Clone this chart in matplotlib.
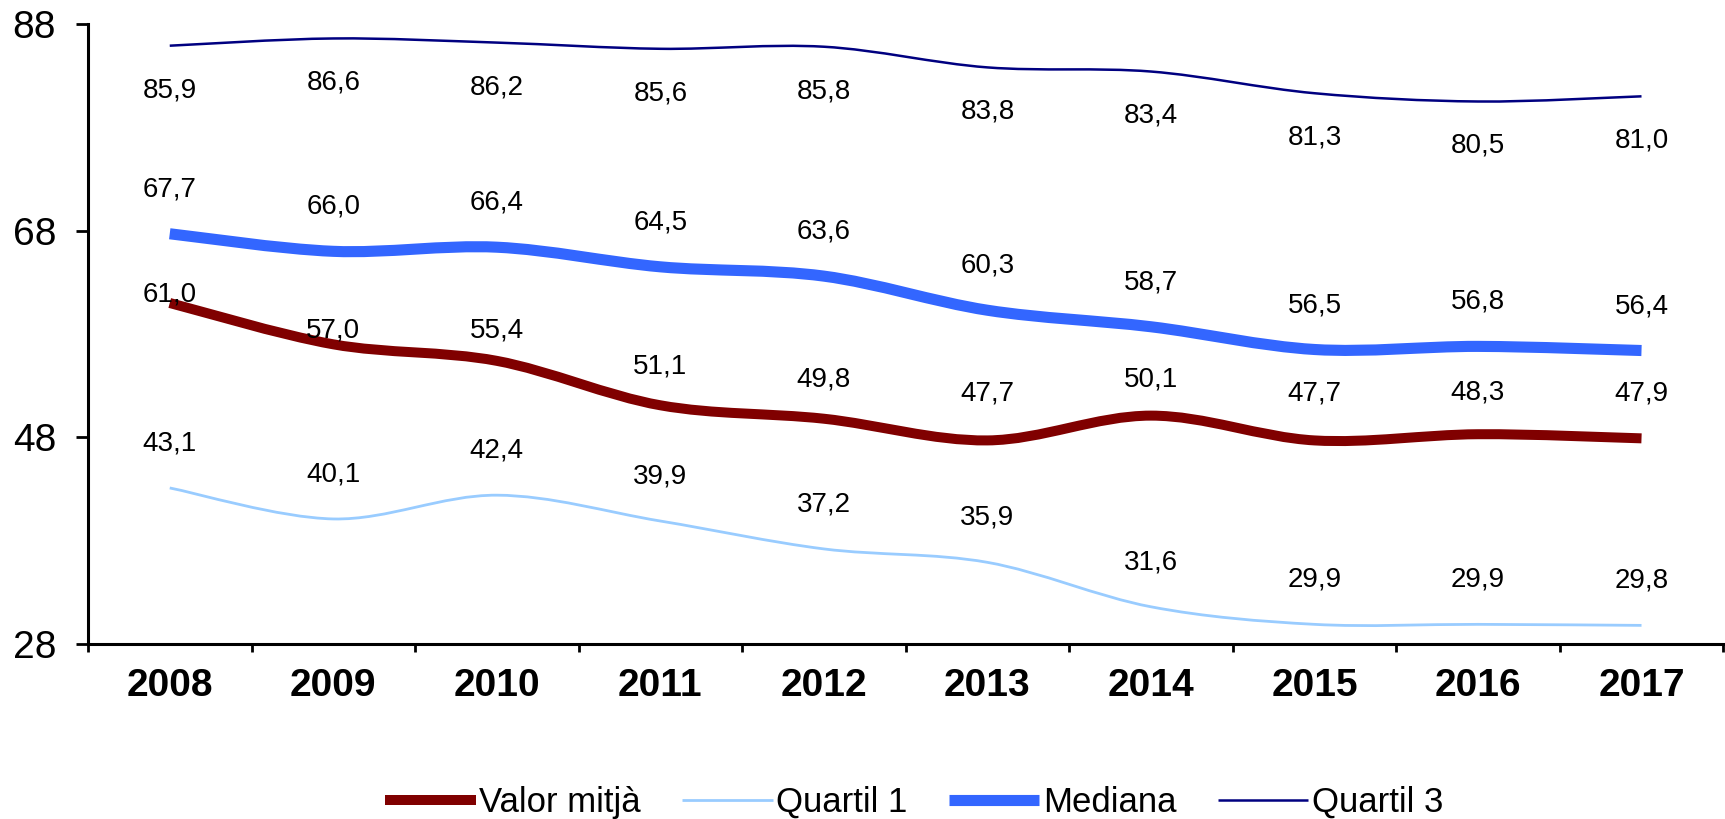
import numpy as np
import matplotlib
matplotlib.use('Agg')
import matplotlib.pyplot as plt
from matplotlib.path import Path
from matplotlib.patches import PathPatch
from matplotlib.lines import Line2D

plt.rcParams['font.family'] = ['Liberation Sans', 'DejaVu Sans']

# Data
years = ['2008', '2009', '2010', '2011', '2012', '2013', '2014', '2015', '2016', '2017']
valor_mitja = [61.0, 57.0, 55.4, 51.1, 49.8, 47.7, 50.1, 47.7, 48.3, 47.9]
quartil_1 = [43.1, 40.1, 42.4, 39.9, 37.2, 35.9, 31.6, 29.9, 29.9, 29.8]
mediana = [67.7, 66.0, 66.4, 64.5, 63.6, 60.3, 58.7, 56.5, 56.8, 56.4]
quartil_3 = [85.9, 86.6, 86.2, 85.6, 85.8, 83.8, 83.4, 81.3, 80.5, 81.0]
y_ticks = [28, 48, 68, 88]

# label offsets in points (positive = above the line)
mean_dy = [6, 10, 22, 28, 28, 34, 26, 34, 30, 32]


def smooth_path(x, y):
    # Excel-like smoothed line: Catmull-Rom converted to cubic Bezier
    x = np.asarray(x, float)
    y = np.asarray(y, float)
    n = len(x)
    verts = [(x[0], y[0])]
    codes = [Path.MOVETO]
    for i in range(n - 1):
        p0 = (x[i - 1], y[i - 1]) if i > 0 else (x[i], y[i])
        p1 = (x[i], y[i])
        p2 = (x[i + 1], y[i + 1])
        p3 = (x[i + 2], y[i + 2]) if i + 2 < n else (x[i + 1], y[i + 1])
        c1 = (p1[0] + (p2[0] - p0[0]) / 6, p1[1] + (p2[1] - p0[1]) / 6)
        c2 = (p2[0] - (p3[0] - p1[0]) / 6, p2[1] - (p3[1] - p1[1]) / 6)
        verts += [c1, c2, p2]
        codes += [Path.CURVE4] * 3
    return Path(verts, codes)


fig = plt.figure(figsize=(17.25, 8.19), dpi=100)
ax = fig.add_axes([0.051, 0.2137, 0.948, 0.757])

x = np.arange(len(years))
series = [
    ('Valor mitjà', valor_mitja, '#800000', 7.2),
    ('Quartil 1', quartil_1, '#99CCFF', 2.0),
    ('Mediana', mediana, '#3366FF', 8.0),
    ('Quartil 3', quartil_3, '#000080', 1.8),
]

handles = []
for name, vals, color, lw in series:
    patch = PathPatch(smooth_path(x, vals), fill=False, edgecolor=color,
                      linewidth=lw, capstyle='butt', joinstyle='round')
    ax.add_patch(patch)
    handles.append(Line2D([], [], color=color, linewidth=lw, solid_capstyle='butt'))

def label(vals, offsets):
    for xi, v, dy in zip(x, vals, offsets):
        ax.annotate(f'{v:.1f}'.replace('.', ','), (xi, v), xytext=(0, dy),
                    textcoords='offset points', ha='center', va='center',
                    fontsize=20, color='black')

label(valor_mitja, mean_dy)
label(quartil_1, [32] * len(x))
label(mediana, [32] * len(x))
label(quartil_3, [-32] * len(x))

ax.set_xlim(-0.5, len(years) - 0.5)
ax.set_ylim(28, 88)
ax.set_yticks(y_ticks)
ax.set_yticklabels([str(t) for t in y_ticks], fontsize=28)
ax.set_xticks(np.arange(len(years) + 1) - 0.5)
ax.set_xticklabels([])
ax.set_xticks(x, minor=True)
ax.set_xticklabels(years, minor=True, fontsize=28, fontweight='bold')
ax.tick_params(axis='x', which='minor', length=0, pad=17)
ax.tick_params(axis='x', which='major', length=6, width=2, direction='out')
ax.tick_params(axis='y', length=9, width=2, direction='out', pad=14)

for s in ['top', 'right']:
    ax.spines[s].set_visible(False)
for s in ['left', 'bottom']:
    ax.spines[s].set_linewidth(2.2)

fig.legend(handles, [s[0] for s in series], loc='center',
           bbox_to_anchor=(0.53, 0.02), ncol=4, frameon=False, fontsize=25,
           handlelength=2.6, handletextpad=0.1, columnspacing=1.2)

fig.savefig('out.png', dpi=100)
